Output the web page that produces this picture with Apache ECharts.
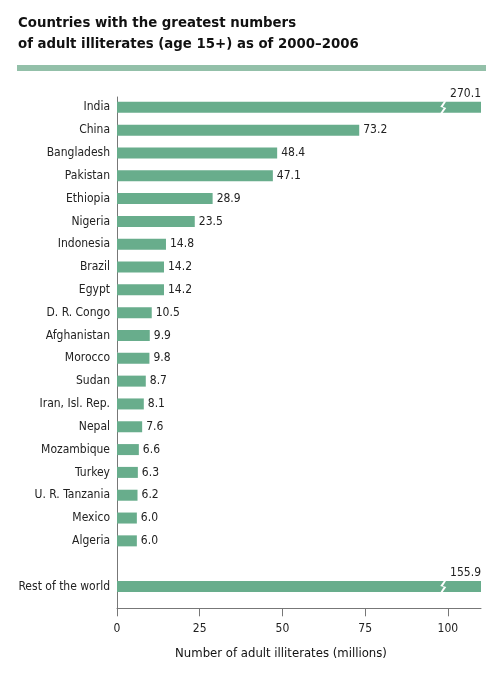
<!DOCTYPE html>
<html>
<head>
<meta charset="utf-8">
<script src="https://cdn.jsdelivr.net/npm/echarts@6/dist/echarts.min.js"></script>
<style>
html,body{margin:0;padding:0;background:#fff;}
#main{width:504px;height:673px;}
</style>
</head>
<body>
<div id="main"></div>
<script>
const categories = ['India','China','Bangladesh','Pakistan','Ethiopia','Nigeria','Indonesia','Brazil','Egypt','D. R. Congo','Afghanistan','Morocco','Sudan','Iran, Isl. Rep.','Nepal','Mozambique','Turkey','U. R. Tanzania','Mexico','Algeria','','Rest of the world'];
const values = [270.1,73.2,48.4,47.1,28.9,23.5,14.8,14.2,14.2,10.5,9.9,9.8,8.7,8.1,7.6,6.6,6.3,6.2,6.0,6.0,null,155.9];
const brokenBars = ['India','Rest of the world'];
const tickValues = [0,25,50,75,100];
const axisMax = 110;
const breakAt = 98.6;

const FONT = '"DejaVu Sans Condensed", sans-serif';
const BAR = '#68ad8c';

const chart = echarts.init(document.getElementById('main'), null, {renderer:'canvas'});

const barData = values.map((v, i) => {
  if (v === null) return '-';
  const item = {value: v};
  if (v > axisMax) {
    item.label = {position: ['100%', -2], align: 'right', verticalAlign: 'bottom', distance: 0};
  }
  return item;
});

chart.setOption({
  animation: false,
  title: {
    text: 'Countries with the greatest numbers\nof adult illiterates (age 15+) as of 2000–2006',
    left: 18, top: 13, padding: 0,
    textStyle: {fontFamily: '"DejaVu Sans Condensed", sans-serif', fontWeight: 'bold', fontSize: 14.8, lineHeight: 21, color: '#111'}
  },
  graphic: [{type: 'rect', left: 17, top: 65, shape: {width: 469, height: 6}, style: {fill: '#93c0a9'}}],
  grid: [
    {left: 117, right: 23, top: 95.9, bottom: 75.1},
    {left: 117, right: 23, top: 97, bottom: 64.7}
  ],
  xAxis: [
    {gridIndex: 0, type: 'value', min: 0, max: axisMax, show: false},
    {gridIndex: 1, type: 'value', min: 0, max: axisMax,
     name: 'Number of adult illiterates (millions)', nameLocation: 'middle', nameGap: 39, nameMoveOverlap: false,
     nameTextStyle: {fontFamily: FONT, fontSize: 13, color: '#111', padding: [0, 36, 0, 0]},
     axisLine: {show: true, lineStyle: {color: '#777', width: 1}},
     axisTick: {show: true, length: 8, lineStyle: {color: '#777'}, customValues: tickValues},
     axisLabel: {fontFamily: FONT, fontSize: 12, color: '#222', margin: 15, customValues: tickValues},
     splitLine: {show: false}}
  ],
  yAxis: [
    {gridIndex: 0, type: 'category', data: categories, inverse: true,
     axisLine: {show: false}, axisTick: {show: false},
     axisLabel: {fontFamily: FONT, fontSize: 12, color: '#222', margin: 7}},
    {gridIndex: 1, type: 'value', min: 0, max: 1,
     axisLine: {show: true, lineStyle: {color: '#777', width: 1}},
     axisTick: {show: false}, axisLabel: {show: false}, splitLine: {show: false}}
  ],
  series: [{
    type: 'bar', xAxisIndex: 0, yAxisIndex: 0,
    data: barData, barWidth: 11, clip: true,
    itemStyle: {color: BAR},
    label: {show: true, position: 'right', distance: 4, fontFamily: FONT, fontSize: 12, color: '#222',
            formatter: p => Number(p.value).toFixed(1)},
    markPoint: {
      symbol: 'path://M6,0 L8.5,0 L4.5,9 L8.5,11 L4,20 L1.5,20 L5.5,11 L1.5,9 Z',
      symbolSize: [6, 12],
      itemStyle: {color: '#fff'},
      label: {show: false},
      data: brokenBars.map(c => ({coord: [breakAt, c]}))
    }
  }]
});
</script>
</body>
</html>
